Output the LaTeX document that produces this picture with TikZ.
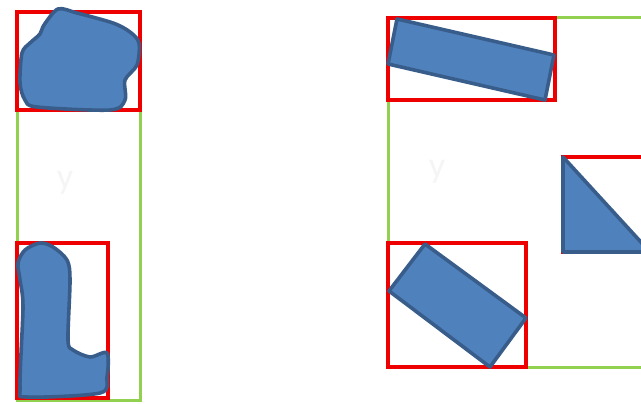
\documentclass[tikz,border=0pt]{standalone}
\usepackage{fontspec}
\setmainfont{Carlito}
\definecolor{gbox}{HTML}{92D050}
\definecolor{rbox}{HTML}{EE0000}
\definecolor{bfill}{HTML}{4F81BD}
\definecolor{bline}{HTML}{385D8A}
\tikzset{
  greenbox/.style={draw=gbox, line width=3pt},
  redbox/.style={draw=rbox, line width=4pt},
  blueshape/.style={fill=bfill, draw=bline, line width=3.6pt, line join=round},
  faint/.style={text=black!4, font=\fontsize{36}{36}\selectfont}
}
\begin{document}
\begin{tikzpicture}[x=1pt,y=-1pt]
\useasboundingbox (0,0) rectangle (641,404);
\clip (0,0) rectangle (641,404);
\fill[white] (0,0) rectangle (641,404);
% left figure
\draw[greenbox] (17,12) rectangle (140,400);
\node[faint] (yl) at (65,183) {y};
\draw[redbox] (17,12) rectangle (140,110);
\draw[redbox] (17,243) rectangle (108,398);
\draw[blueshape] plot[smooth cycle, tension=0.5] coordinates {
  (58,9) (77,13) (113,23) (130,32) (139,43) (137,65) (125,80) (125,100)
  (110,110) (37,107) (25,100) (20,83) (22,53) (30,43) (40,34) (44,25)};
\draw[blueshape] plot[smooth cycle, tension=0.5] coordinates {
  (40,243) (53,247) (67,260) (70,280) (68,340) (73,350) (90,357) (107,353)
  (107,377) (100,393) (27,397) (20,387) (23,307) (20,280) (18,263) (25,250)};
% right figure
\draw[greenbox] (388,18) rectangle (700,367);
\node[faint] (yr) at (437,172) {y};
\draw[redbox] (388,18) rectangle (555,100);
\draw[redbox] (388,243) rectangle (526,367);
\draw[redbox] (563,157) rectangle (700,252);
\draw[blueshape] (397,19) -- (554,55) -- (545,100) -- (388,64) -- cycle;
\draw[blueshape] (425,244) -- (526,318) -- (490,367) -- (389,291) -- cycle;
\draw[blueshape] (563,157) -- (563,252) -- (650,252) -- cycle;
\end{tikzpicture}
\end{document}
